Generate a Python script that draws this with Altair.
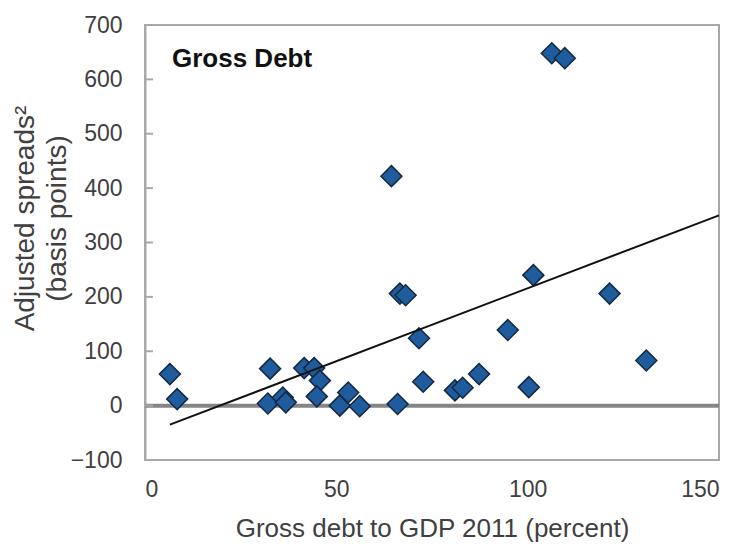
import altair as alt
import pandas as pd

# Gross debt to GDP 2011 (percent) and adjusted spreads (basis points)
debt = [6.5, 8.4, 32.7, 32.1, 36.0, 36.8, 41.6, 44.2, 45.7, 44.9, 50.9, 53.1,
        56.1, 66.0, 66.6, 68.1, 71.6, 72.7, 81.0, 83.0, 87.3, 94.8, 100.3,
        101.5, 121.4, 131.0, 64.4, 106.3, 109.7]
spread = [58, 12, 68, 4, 15, 6, 69, 69, 46, 17, 0, 24,
          -1, 3, 206, 203, 124, 44, 28, 33, 58, 139, 34,
          240, 206, 83, 422, 648, 639]

trend_debt = [6.5, 150]
trend_spread = [-35, 350]

x_ticks = [0, 50, 100, 150]
y_ticks = [-100, 0, 100, 200, 300, 400, 500, 600, 700]
zero_level = [0]
panel_title = ["Gross Debt"]

FONT = "Liberation Sans"
TXT = "#404040"
FRAME = "#a8a8a8"

pts = pd.DataFrame({"debt": debt, "spread": spread})
trend = pd.DataFrame({"debt": trend_debt, "spread": trend_spread})
ticks = pd.DataFrame({"spread": y_ticks})
zero = pd.DataFrame({"spread": zero_level})
ttl = pd.DataFrame({"label": panel_title})

xscale = alt.Scale(domain=[0, 150], nice=False, zero=False)
yscale = alt.Scale(domain=[-100, 700], nice=False, zero=False)

x_axis = alt.Axis(
    values=x_ticks, title="Gross debt to GDP 2011 (percent)", grid=False,
    domain=False, ticks=False, tickSize=0, labelFont=FONT, labelFontSize=23,
    labelColor=TXT, labelPadding=18, titleFont=FONT, titleFontSize=26,
    titleFontWeight="normal", titleColor=TXT, titleY=76,
    titleBaseline="alphabetic",
)
y_axis = alt.Axis(
    values=y_ticks, title=["Adjusted spreads²", "(basis points)"], grid=False,
    domain=True, domainColor=FRAME, domainWidth=2, ticks=False, tickSize=0,
    labelFont=FONT, labelFontSize=23, labelColor=TXT, labelPadding=23,
    titleFont=FONT, titleFontSize=28, titleFontWeight="normal",
    titleColor=TXT, titleX=-120, titleY=193, titleBaseline="middle",
    titleAngle=270, titleLineHeight=32,
)

X = alt.X("debt:Q", scale=xscale, axis=x_axis)
Y = alt.Y("spread:Q", scale=yscale, axis=y_axis)

zero_line = alt.Chart(zero).mark_rule(color="#858585", strokeWidth=4).encode(
    y=Y, x=alt.value(0), x2=alt.value(574),
)

inner_ticks = alt.Chart(ticks).mark_rule(color=FRAME, strokeWidth=2).encode(
    y=Y, x=alt.value(0), x2=alt.value(8),
)

points = alt.Chart(pts).mark_point(
    shape="diamond", filled=True, fill="#1f5c9e", stroke="#15283f",
    strokeWidth=1.5, size=440, opacity=1,
).encode(x=X, y=Y)

trend_line = alt.Chart(trend).mark_line(color="#111111", strokeWidth=2).encode(
    x=X, y=Y,
)

title_text = alt.Chart(ttl).mark_text(
    align="left", baseline="alphabetic", font=FONT, fontSize=26,
    fontWeight="bold", color="#111111",
).encode(x=alt.value(27), y=alt.value(42), text="label:N")

chart = alt.layer(zero_line, inner_ticks, points, trend_line, title_text).properties(
    width=574, height=435,
    autosize=alt.AutoSizeParams(type="none"),
    padding={"left": 145, "top": 25, "right": 28, "bottom": 87},
    background="white",
).configure_view(stroke=FRAME, strokeWidth=2)

chart.save("out.html", embed_options={"renderer": "svg", "actions": False})
